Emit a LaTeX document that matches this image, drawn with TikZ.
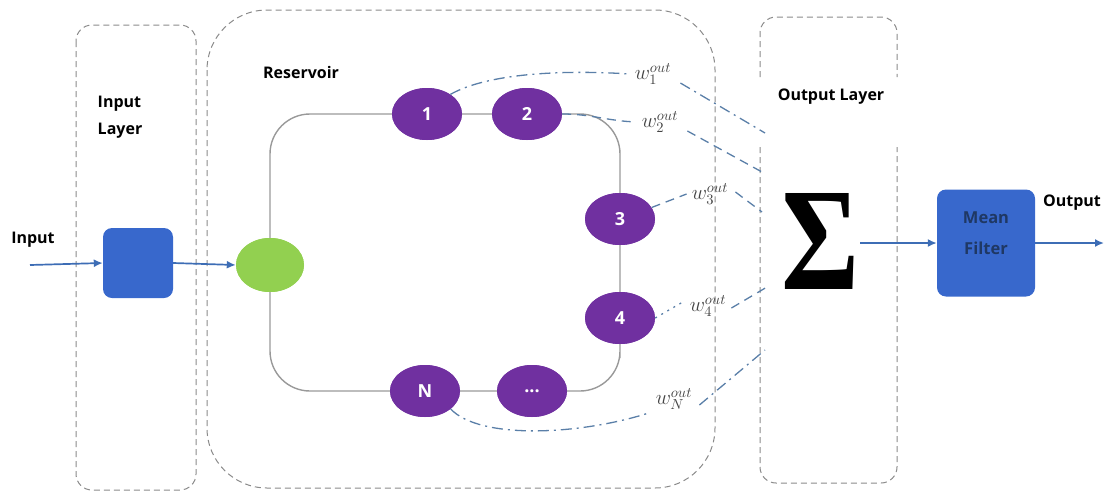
\documentclass[tikz,border=0pt]{standalone}
\usepackage{fontspec}
\setsansfont{Open Sans}
\newfontfamily\sigfont{Liberation Serif}
\usetikzlibrary{shapes.geometric,arrows.meta}
\definecolor{boxgray}{HTML}{8A8A8A}
\definecolor{ringgray}{HTML}{999999}
\definecolor{blueA}{HTML}{3868CC}
\definecolor{arrblue}{HTML}{3D6DB5}
\definecolor{purp}{HTML}{7030A0}
\definecolor{grn}{HTML}{92D050}
\definecolor{wline}{HTML}{5A7FA8}
\definecolor{navy}{HTML}{1F3864}
\definecolor{lbl}{HTML}{444444}
\tikzset{
  layerbox/.style={draw=boxgray, line width=1pt, dash pattern=on 6pt off 4pt},
  ring/.style={draw=ringgray, line width=1.4pt},
  neuron/.style={ellipse, fill=purp, draw=none, minimum width=70pt, minimum height=52pt, inner sep=0pt,
    text=white, font=\sffamily\bfseries\fontsize{18}{18}\selectfont},
  arr/.style={draw=arrblue, line width=1.7pt, -{Latex[length=9pt,width=8pt]}},
  wdd/.style={draw=wline, line width=1.3pt, dash pattern=on 11pt off 5pt on 2pt off 5pt},
  wda/.style={draw=wline, line width=1.3pt, dash pattern=on 9pt off 6pt},
  wdo/.style={draw=wline, line width=1.3pt, dash pattern=on 2pt off 5pt},
  wlab/.style={text=lbl, inner sep=1pt, font=\fontsize{14}{14}\selectfont},
  title/.style={font=\sffamily\bfseries\fontsize{16}{16}\selectfont, text=black, inner sep=0pt},
  bluebox/.style={fill=blueA, draw=none, rounded corners=9pt}
}
\newcommand{\wl}[1]{\scalebox{1.45}{$w_{#1}^{out}$}}
\begin{document}
\begin{tikzpicture}[x=1pt,y=-1pt]
\useasboundingbox (0,0) rectangle (1105,493);
% layer boxes
\draw[layerbox, rounded corners=16pt] (76,25) rectangle (196,490);
\draw[layerbox, rounded corners=60pt] (207,10) rectangle (715,488);
\draw[layerbox, rounded corners=16pt] (760,77) -- (760,17) -- (897,17) -- (897,77);
\draw[layerbox, rounded corners=16pt] (760,147) -- (760,483) -- (897,483) -- (897,147);
% titles
\node[title] (tin) at (33,240) {Input};
\node[title, align=left, font=\sffamily\bfseries\fontsize{16}{27}\selectfont] (til) at (120,117) {Input\\Layer};
\node[title] (tres) at (301,72) {Reservoir};
\node[title] (tol) at (831,97) {Output Layer};
\node[title] (tout) at (1072,203) {Output};
% input side
\coordinate (inc) at (30,265);
\node[bluebox, minimum width=70pt, minimum height=70pt] (ib) at (138,263) {};
\node[ellipse, fill=grn, minimum width=68pt, minimum height=54pt, inner sep=0pt] (g) at (270,265) {};
% reservoir neurons
\node[neuron] (n1) at (427,114) {1};
\node[neuron] (n2) at (527,114) {2};
\node[neuron] (n3) at (620,219) {3};
\node[neuron] (n4) at (620,318) {4};
\node[neuron] (nd) at (532,391) {...};
\node[neuron] (nN) at (425,391) {N};
% ring
\draw[ring, rounded corners=40pt] (g.center) |- (n1.center) -- (n2.center) -| (n3.center) -- (n4.center) |- (nd.center) -- (nN.center) -| (g.center);
% redraw nodes on top of ring
\node[ellipse, fill=grn, minimum width=68pt, minimum height=54pt, inner sep=0pt] at (g) {};
\node[neuron] at (n1) {1};
\node[neuron] at (n2) {2};
\node[neuron] at (n3) {3};
\node[neuron] at (n4) {4};
\node[neuron] at (nd) {...};
\node[neuron] at (nN) {N};
% arrows input
\draw[arr] (inc) -- (ib.west);
\draw[arr] (ib.east) -- (g.west);
% weight labels
\node[wlab] (w1) at (653,74) {\wl{1}};
\node[wlab] (w2) at (660,122) {\wl{2}};
\node[wlab] (w3) at (710,194) {\wl{3}};
\node[wlab] (w4) at (708,306) {\wl{4}};
\node[wlab] (wN) at (674,399) {\wl{N}};
\coordinate (c1) at (765,133);
\coordinate (c2) at (762,172);
\coordinate (c3) at (762,212);
\coordinate (c4) at (767,287);
\coordinate (cN) at (765,350);
% weight lines
\draw[wdd] (n1.40) .. controls (490,72) and (570,70) .. ([xshift=-4pt]w1.west);
\draw[wdd] ([xshift=8pt,yshift=3pt]w1.south east) -- (c1);
\draw[wda] (n2.east) to[out=0,in=178] ([xshift=-4pt]w2.west);
\draw[wda] ([xshift=8pt,yshift=3pt]w2.south east) -- (c2);
\draw[wda] (n3.20) -- ([xshift=-4pt]w3.west);
\draw[wda] ([xshift=6pt,yshift=2pt]w3.east) -- (c3);
\draw[wdo] (n4.east) -- ([xshift=-4pt,yshift=5pt]w4.west);
\draw[wda] ([xshift=4pt,yshift=-2pt]w4.east) -- (c4);
\draw[wdd] (nN.-35) .. controls (480,440) and (580,435) .. ([xshift=-6pt,yshift=-2pt]wN.south west);
\draw[wdd] ([xshift=6pt,yshift=-6pt]wN.east) -- (cN);
% sigma and filter
\node[inner sep=0pt] (sig) at (821,241) {\resizebox{78pt}{96pt}{\sigfont\bfseries Σ}};
\node[bluebox, minimum width=98pt, minimum height=107pt] (mf) at (986,243) {};
\node[align=center, text=navy, font=\sffamily\bfseries\fontsize{16.5}{31}\selectfont] (mft) at (986,233) {Mean\\Filter};
\coordinate (outc) at (1104,243);
\draw[arr] (sig.east |- mf.west) -- (mf.west);
\draw[arr] (mf.east) -- (outc);
\end{tikzpicture}
\end{document}
